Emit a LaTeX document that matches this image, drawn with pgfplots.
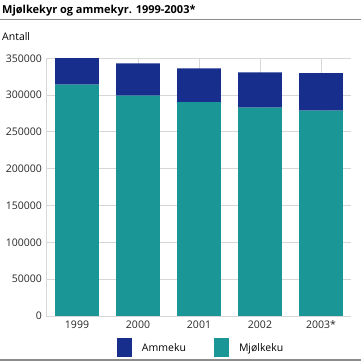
\documentclass[border=0pt]{standalone}
\usepackage{pgfplots}
\pgfplotsset{compat=1.18}
\usepackage{fontspec}
\setmainfont{Open Sans}
\definecolor{amme}{RGB}{24,46,140}
\definecolor{mjolk}{RGB}{26,150,150}
\definecolor{gridc}{RGB}{215,215,215}
\definecolor{linec}{RGB}{140,140,140}
\begin{document}
\begin{tikzpicture}
\path[use as bounding box] (0pt,0pt) rectangle (362pt,362pt);
\node[anchor=west,font=\fontsize{11}{13}\selectfont\bfseries,inner xsep=1pt] at (1pt,351pt) {Mjølkekyr og ammekyr. 1999-2003*};
\node[anchor=west,inner sep=0pt] at (0pt,342.3pt) {\textcolor{linec}{\rule{361pt}{1.2pt}}};
\node[anchor=west,font=\fontsize{10.5}{12}\selectfont,inner xsep=1pt] at (1pt,325pt) {Antall};
\node[anchor=west,inner sep=0pt] at (0pt,2pt) {\textcolor{linec}{\rule{361pt}{1.2pt}}};
\begin{axis}[
  at={(46.5pt,46pt)}, anchor=south west,
  scale only axis, width=305pt, height=257.7pt,
  ybar stacked, bar width=0.72,
  xmin=-0.5, xmax=4.5, ymin=0, ymax=350000,
  xtick={0,1,2,3,4}, xticklabels={1999,2000,2001,2002,2003*},
  ytick={0,50000,...,350000},
  scaled y ticks=false,
  /pgf/number format/assume math mode=true,
  /pgf/number format/fixed,
  /pgf/number format/1000 sep={},
  tick label style={font=\fontsize{10.5}{12}\selectfont, text=black!85},
  ymajorgrids, xmajorgrids,
  major grid style={gridc, line width=0.9pt},
  axis x line*=bottom, axis y line*=left,
  axis line style={gridc, line width=0.9pt},
  major tick length=0pt,
  xticklabel style={yshift=-1pt},
  yticklabel style={xshift=-1pt},
  legend style={at={(0.507,-0.124)}, anchor=center, draw=none, fill=none,
    legend columns=2, font=\fontsize{10.5}{12}\selectfont,
    /tikz/every even column/.append style={column sep=26pt}},
  legend image code/.code={\fill[#1] (0pt,-9.5pt) rectangle (15pt,9.5pt); \path (23pt,0pt);},
  reverse legend,
]
\addplot[fill=mjolk, draw=none] coordinates {(0,314100) (1,299200) (2,290600) (3,282900) (4,278800)};
\addplot[fill=amme, draw=none] coordinates {(0,36900) (1,44000) (2,45800) (3,48100) (4,51200)};
\legend{Mjølkeku,Ammeku}
\end{axis}
\end{tikzpicture}
\end{document}
